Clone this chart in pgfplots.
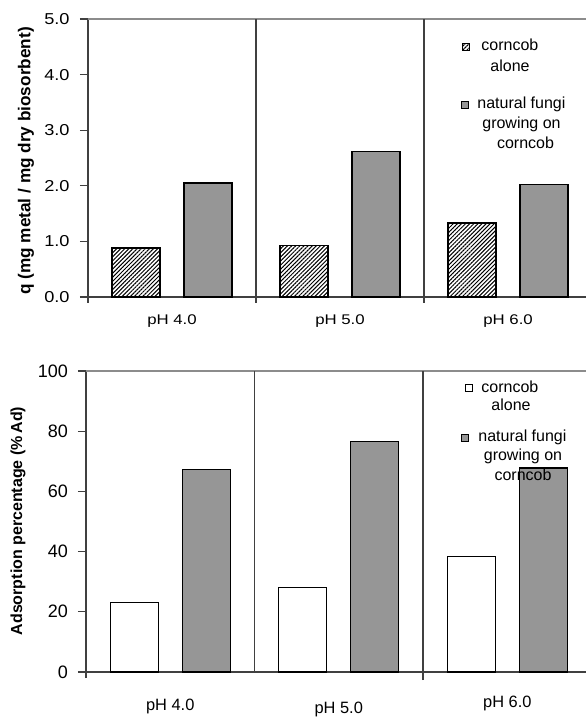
\documentclass[border=0pt]{standalone}
\usepackage{fontspec}
\setmainfont{Liberation Sans}
\usepackage{pgfplots}
\pgfplotsset{compat=1.18}
\usetikzlibrary{patterns.meta}

\definecolor{barfill}{HTML}{969696}
\definecolor{axisline}{HTML}{404040}
\definecolor{frameline}{HTML}{8C8C8C}

\tikzset{
  hatch/.style={pattern={Lines[angle=45, distance=1.45pt, line width=0.5pt]}},
  legtxt/.style={font=\fontsize{8}{9}\selectfont, inner sep=0pt},
}

\pgfplotsset{
  chartbase/.style={
    scale only axis, clip=false,
    axis x line*=bottom, axis y line*=left,
    axis line style={axisline, line width=0.6pt},
    xmin=0.5, ymin=0,
    xtick={1,2,3},
    x tick style={draw=none},
    tick align=outside,
    major tick length=4pt,
    y tick style={axisline, line width=0.6pt},
    /pgf/number format/assume math mode=true,
    yticklabel style={anchor=east},
    xticklabel style={anchor=base},
    ybar, bar width=24pt,
    every axis plot/.append style={draw=black, line width=0.6pt},
  }
}

\begin{document}
\begin{tikzpicture}
\useasboundingbox (-43pt,-23pt) rectangle (250pt,336pt);

% upper chart: q
\begin{axis}[chartbase,
  at={(1pt,187.5pt)}, anchor=south west,
  width=249pt, height=139pt,
  xmax=3.464, ymax=5,
  ytick={0,1,2,3,4,5},
  yticklabel style={/pgf/number format/fixed, /pgf/number format/fixed zerofill,
    /pgf/number format/precision=1, font=\fontsize{7.9}{9}\selectfont,
    xscale=1.15, xshift=-1pt},
  xticklabel style={font=\fontsize{7}{9}\selectfont, xscale=1.2, yshift=-10pt},
  xticklabels={pH 4.0, pH 5.0, pH 6.0},
]
\addplot[bar shift=-18pt, hatch] coordinates {(1,0.88) (2,0.92) (3,1.33)};
\addplot[bar shift=18pt, fill=barfill] coordinates {(1,2.05) (2,2.61) (3,2.03)};
\draw[frameline, line width=0.6pt] (rel axis cs:0,1) -- (rel axis cs:1,1);
\draw[axisline, line width=0.6pt] ([yshift=-3pt]axis cs:1.5,0) -- (axis cs:1.5,5);
\draw[axisline, line width=0.6pt] ([yshift=-3pt]axis cs:2.5,0) -- (axis cs:2.5,5);
\draw[axisline, line width=0.6pt] ([yshift=-3pt]rel axis cs:0,0) -- (rel axis cs:0,0);
\end{axis}

% lower chart: adsorption percentage
\begin{axis}[chartbase,
  at={(0pt,0pt)}, anchor=south west,
  width=250pt, height=150.5pt,
  xmax=3.467, ymax=100,
  ytick={0,20,40,60,80,100},
  yticklabel style={font=\fontsize{9}{10}\selectfont, xshift=-1.5pt},
  xticklabel style={font=\fontsize{8.2}{9.5}\selectfont, yshift=-15pt},
  xticklabels={pH 4.0, \raisebox{-1.9pt}{pH 5.0}, \raisebox{1.3pt}{pH 6.0}},
]
\addplot[bar shift=-18pt, fill=white] coordinates {(1,23.0) (2,28.2) (3,38.5)};
\addplot[bar shift=18pt, fill=barfill] coordinates {(1,67.4) (2,76.7) (3,67.8)};
\draw[frameline, line width=0.6pt] (rel axis cs:0,1) -- (rel axis cs:1,1);
\draw[axisline, line width=0.7pt] (axis cs:1.5,0) -- (axis cs:1.5,100);
\draw[axisline, line width=0.6pt] ([yshift=-4pt]axis cs:2.5,0) -- (axis cs:2.5,100);
\draw[axisline, line width=0.6pt] ([yshift=-3pt]rel axis cs:0,0) -- (rel axis cs:0,0);
\end{axis}

% legend of the upper chart
\draw[black, line width=0.5pt, hatch] (188.25pt,310.75pt) rectangle ++(3.5pt,3.5pt);
\node[legtxt, anchor=base west] at (197.5pt,310.5pt) {corncob};
\node[legtxt, anchor=base] at (212pt,300pt) {alone};
\draw[black, line width=0.5pt, fill=barfill] (187.5pt,281.75pt) rectangle ++(3.5pt,3.5pt);
\node[legtxt, anchor=base west] at (195.5pt,281.5pt) {natural fungi};
\node[legtxt, anchor=base] at (217.75pt,271.5pt) {growing on};
\node[legtxt, anchor=base] at (219.75pt,261.5pt) {corncob};

% legend of the lower chart (drawn over the bars, as in the original)
\draw[black, line width=0.5pt, fill=white] (189.75pt,140.25pt) rectangle ++(3.5pt,3.5pt);
\node[legtxt, anchor=base west] at (197.5pt,139.5pt) {corncob};
\node[legtxt, anchor=base] at (212.5pt,130.5pt) {alone};
\draw[black, line width=0.5pt, fill=barfill] (187.75pt,115.25pt) rectangle ++(3.5pt,3.5pt);
\node[legtxt, anchor=base west] at (196pt,115pt) {natural fungi};
\node[legtxt, anchor=base] at (218.5pt,105.5pt) {growing on};
\node[legtxt, anchor=base] at (218.5pt,95.5pt) {corncob};

% axis titles
\node[rotate=90, font=\bfseries\fontsize{8.6}{10}\selectfont] at (-30pt,255.5pt)
  {q (mg metal / mg dry biosorbent)};
\node[rotate=90, font=\bfseries\fontsize{8}{10}\selectfont] at (-34pt,75.5pt)
  {Adsorption percentage (\%\,Ad)};
\end{tikzpicture}
\end{document}
